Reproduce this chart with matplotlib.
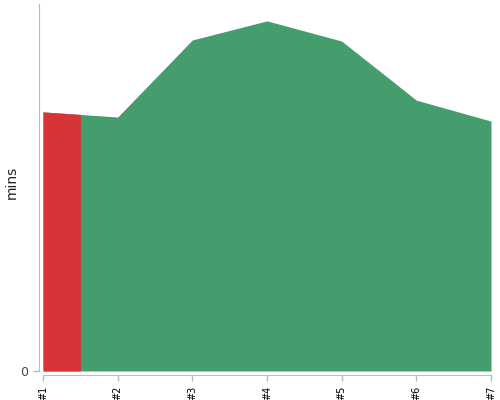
import numpy as np
import matplotlib
matplotlib.use("Agg")
from matplotlib import pyplot as plt

labels = ["#1", "#2", "#3", "#4", "#5", "#6", "#7"]
mins = [70.6, 69.2, 90.2, 95.4, 89.9, 73.8, 68.1]
highlight_end = 0.5  # red part covers first half-step

green = "#459c6c"
red = "#d73437"
grey = "#bbbbbb"

x = np.arange(len(labels))
y = np.array(mins)

fig = plt.figure(figsize=(5, 4), dpi=100)
ax = fig.add_axes([0.086, 0.0725, 0.896, 0.9175])

ax.fill_between(x, 0, y, color=green, linewidth=0)
xr = np.array([0, highlight_end])
ax.fill_between(xr, 0, np.interp(xr, x, y), color=red, linewidth=0)

ax.set_xlim(0, len(labels) - 1)
ax.set_ylim(0, 100)
ax.set_xticks(x)
ax.set_xticklabels(labels)
ax.set_yticks([0])
ax.set_yticklabels(["0"])
ax.set_ylabel("mins", fontsize=10, color="#222222")
ax.yaxis.set_label_coords(-0.054, 0.515)

for s in ["top", "right"]:
    ax.spines[s].set_visible(False)
for s in ["left", "bottom"]:
    ax.spines[s].set_color(grey)
    ax.spines[s].set_position(("outward", 3))
ax.tick_params(axis="both", colors=grey, length=4, width=1)
ax.tick_params(axis="x", labelrotation=90, labelsize=7, labelcolor="black")
ax.tick_params(axis="y", labelsize=9, labelcolor="#444444")

fig.savefig("out.png", dpi=100)
